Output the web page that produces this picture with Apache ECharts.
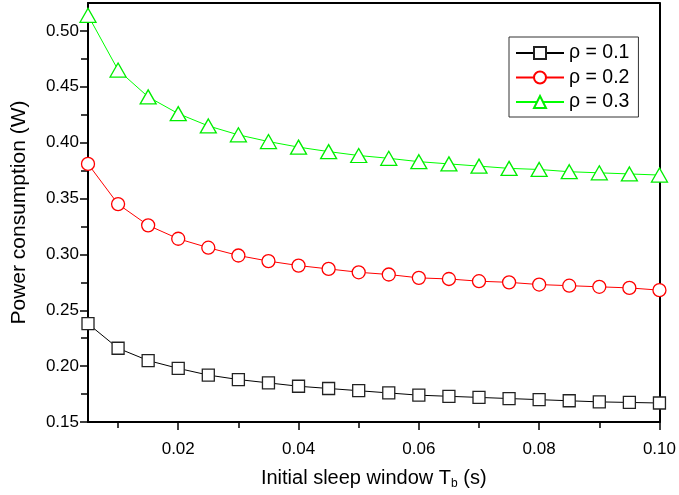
<!DOCTYPE html>
<html>
<head>
<meta charset="utf-8">
<script src="https://cdn.jsdelivr.net/npm/echarts@6/dist/echarts.min.js"></script>
<style>
  html, body { margin: 0; padding: 0; background: #fff; }
  #chart { width: 679px; height: 495px; }
</style>
</head>
<body>
<div id="chart"></div>
<script>
// 数据：初始睡眠窗口 Tb (s)
var xs = [0.005, 0.01, 0.015, 0.02, 0.025, 0.03, 0.035, 0.04, 0.045, 0.05,
          0.055, 0.06, 0.065, 0.07, 0.075, 0.08, 0.085, 0.09, 0.095, 0.10];
var rho1 = [0.238, 0.216, 0.205, 0.198, 0.192, 0.188, 0.185, 0.182, 0.180, 0.178,
            0.176, 0.174, 0.173, 0.172, 0.171, 0.170, 0.169, 0.168, 0.1675, 0.167];
var rho2 = [0.381, 0.345, 0.326, 0.314, 0.306, 0.299, 0.294, 0.290, 0.287, 0.284,
            0.282, 0.279, 0.278, 0.276, 0.275, 0.273, 0.272, 0.271, 0.270, 0.268];
var rho3 = [0.514, 0.465, 0.441, 0.426, 0.415, 0.407, 0.401, 0.396, 0.392, 0.3885,
            0.386, 0.383, 0.381, 0.379, 0.377, 0.376, 0.374, 0.373, 0.372, 0.371];
var seriesNames = ['ρ = 0.1', 'ρ = 0.2', 'ρ = 0.3'];
var xMajor = [0.02, 0.04, 0.06, 0.08, 0.10];
var xMinor = [0.01, 0.03, 0.05, 0.07, 0.09];
var yMajor = [0.15, 0.20, 0.25, 0.30, 0.35, 0.40, 0.45, 0.50];
var yMinor = [0.175, 0.225, 0.275, 0.325, 0.375, 0.425, 0.475];

function pairs(ys) {
  return xs.map(function (x, i) { return [x, ys[i]]; });
}

var font = 'Liberation Sans, Arial, sans-serif';
var myChart = echarts.init(document.getElementById('chart'));

var option = {
  animation: false,
  backgroundColor: '#fff',
  grid: { left: 88, right: 16, top: 3, bottom: 72, containLabel: false },
  legend: {
    orient: 'vertical',
    left: 509,
    top: 37,
    padding: [6, 9, 5, 6],
    itemGap: 4.5,
    itemWidth: 48,
    itemHeight: 15,
    borderColor: '#333',
    borderWidth: 1,
    textStyle: { fontFamily: font, fontSize: 19.5, color: '#000' },
    data: seriesNames
  },
  xAxis: [
    {
      type: 'value', min: 0.005, max: 0.1, position: 'bottom',
      name: '{n|Initial sleep window T}{s|b}{n| (s)}',
      nameLocation: 'middle', nameGap: 44,
      nameTextStyle: {
        rich: {
          n: { fontFamily: font, fontSize: 20, color: '#000' },
          s: { fontFamily: font, fontSize: 12, color: '#000', verticalAlign: 'bottom', padding: [12, 0, 0, 0] }
        }
      },
      axisLine: { show: true, lineStyle: { color: '#000', width: 2 } },
      axisTick: { show: true, length: 8, customValues: xMajor, lineStyle: { color: '#000', width: 1.5 } },
      axisLabel: {
        customValues: xMajor, margin: 19, fontFamily: font, fontSize: 17, color: '#000',
        formatter: function (v) { return v.toFixed(2); }
      },
      splitLine: { show: false }
    },
    {
      type: 'value', min: 0.005, max: 0.1, position: 'bottom',
      axisLine: { show: false },
      axisTick: { show: true, length: 6, customValues: xMinor, lineStyle: { color: '#000', width: 1.5 } },
      axisLabel: { show: false },
      splitLine: { show: false }
    },
    {
      type: 'value', min: 0.005, max: 0.1, position: 'top',
      axisLine: { show: true, lineStyle: { color: '#000', width: 2 } },
      axisTick: { show: false },
      axisLabel: { show: false },
      splitLine: { show: false }
    }
  ],
  yAxis: [
    {
      type: 'value', min: 0.15, max: 0.525, position: 'left',
      name: 'Power consumption (W)',
      nameLocation: 'middle', nameGap: 58,
      nameTextStyle: { fontFamily: font, fontSize: 21, color: '#000' },
      axisLine: { show: true, lineStyle: { color: '#000', width: 2 } },
      axisTick: { show: true, length: 8, customValues: yMajor, lineStyle: { color: '#000', width: 1.5 } },
      axisLabel: {
        customValues: yMajor, margin: 9, fontFamily: font, fontSize: 17, color: '#000',
        formatter: function (v) { return v.toFixed(2); }
      },
      splitLine: { show: false }
    },
    {
      type: 'value', min: 0.15, max: 0.525, position: 'left',
      axisLine: { show: false },
      axisTick: { show: true, length: 7, customValues: yMinor, lineStyle: { color: '#000', width: 1.5 } },
      axisLabel: { show: false },
      splitLine: { show: false }
    },
    {
      type: 'value', min: 0.15, max: 0.525, position: 'right',
      axisLine: { show: true, lineStyle: { color: '#000', width: 2 } },
      axisTick: { show: false },
      axisLabel: { show: false },
      splitLine: { show: false }
    }
  ],
  series: [
    {
      name: seriesNames[0], type: 'line', data: pairs(rho1),
      symbol: 'rect', symbolSize: 12, showAllSymbol: true,
      lineStyle: { color: '#000', width: 1 },
      itemStyle: { color: '#fff', borderColor: '#222', borderWidth: 1.3 },
      emphasis: { disabled: true }
    },
    {
      name: seriesNames[1], type: 'line', data: pairs(rho2),
      symbol: 'circle', symbolSize: 13, showAllSymbol: true,
      lineStyle: { color: '#ff0000', width: 1 },
      itemStyle: { color: '#fff', borderColor: '#ff0000', borderWidth: 1.3 },
      emphasis: { disabled: true }
    },
    {
      name: seriesNames[2], type: 'line', data: pairs(rho3),
      symbol: 'triangle', symbolSize: [16, 14], showAllSymbol: true,
      lineStyle: { color: '#00ff00', width: 1 },
      itemStyle: { color: '#fff', borderColor: '#00ee00', borderWidth: 1.3 },
      emphasis: { disabled: true }
    }
  ]
};

myChart.setOption(option);
</script>
</body>
</html>
